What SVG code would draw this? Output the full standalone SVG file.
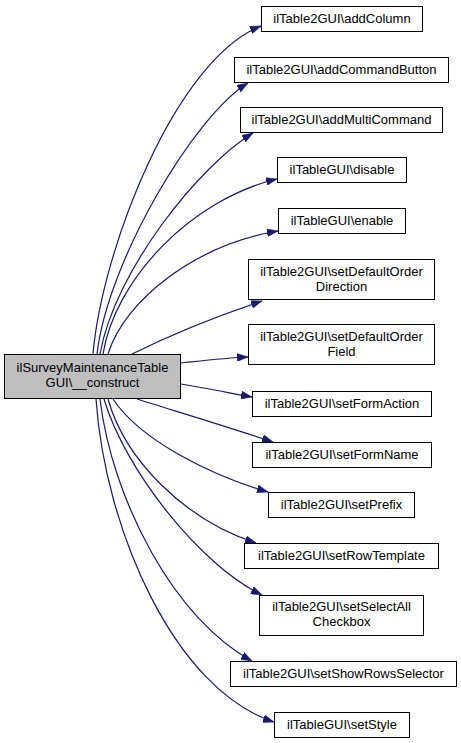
<svg xmlns="http://www.w3.org/2000/svg" width="461" height="743" viewBox="0 0 461 743">
<style>
.node rect{fill:#ffffff;stroke:#000000;stroke-width:1}
#src rect{fill:#bfbfbf}
text{font-family:"Liberation Sans",Arial,Helvetica,sans-serif;font-size:13px;fill:#000000;text-anchor:middle}
.edge{fill:none;stroke:#191970;stroke-width:1.2;marker-end:url(#arrow)}
</style>
<defs>
<marker id="arrow" markerUnits="userSpaceOnUse" viewBox="0 0 11 8" markerWidth="11" markerHeight="8" refX="11" refY="4" orient="auto">
<path d="M0,0 L11,4 L0,8 z" fill="#191970" stroke="#191970" stroke-width="0.5"/>
</marker>
</defs>
<rect x="0" y="0" width="461" height="743" fill="#ffffff"/>
<g id="edges">
<path class="edge" d="M93,354 C102,250 175,60 261,26"/>
<path class="edge" d="M97,354 C108,260 195,115 248,83"/>
<path class="edge" d="M100,354 C115,270 200,165 253,133"/>
<path class="edge" d="M103,354 C115,280 190,200 277,179"/>
<path class="edge" d="M108,354 C125,300 195,245 278,231"/>
<path class="edge" d="M132,354 C170,335 220,315 262,301"/>
<path class="edge" d="M181,363 C200,361 225,358 248,357"/>
<path class="edge" d="M181,384 C205,388 230,393 252,397"/>
<path class="edge" d="M137,399 C175,411 225,426 273,442"/>
<path class="edge" d="M113,399 C140,440 210,475 268,492"/>
<path class="edge" d="M108,399 C125,460 185,520 256,543"/>
<path class="edge" d="M104,399 C125,470 200,565 262,595"/>
<path class="edge" d="M100,399 C112,500 175,620 252,661"/>
<path class="edge" d="M96,399 C105,530 175,690 274,722"/>
</g>
<g id="src" class="node">
<rect x="4.5" y="354.5" width="176" height="44"/>
<text x="92.5" y="372">ilSurveyMaintenanceTable</text>
<text x="92.5" y="386.5">GUI\__construct</text>
</g>
<g id="n1" class="node"><rect x="261.5" y="6.5" width="161" height="25"/><text x="342" y="23">ilTable2GUI\addColumn</text></g>
<g id="n2" class="node"><rect x="234.5" y="57.5" width="214" height="25"/><text x="341.5" y="74">ilTable2GUI\addCommandButton</text></g>
<g id="n3" class="node"><rect x="240.5" y="107.5" width="202" height="25"/><text x="341.5" y="124">ilTable2GUI\addMultiCommand</text></g>
<g id="n4" class="node"><rect x="277.5" y="157.5" width="129" height="25"/><text x="342" y="174">ilTableGUI\disable</text></g>
<g id="n5" class="node"><rect x="278.5" y="208.5" width="127" height="25"/><text x="342" y="225">ilTableGUI\enable</text></g>
<g id="n6" class="node"><rect x="248.5" y="259.5" width="186" height="40"/><text x="341.5" y="276">ilTable2GUI\setDefaultOrder</text><text x="341.5" y="290.5">Direction</text></g>
<g id="n7" class="node"><rect x="248.5" y="324.5" width="186" height="40"/><text x="341.5" y="341">ilTable2GUI\setDefaultOrder</text><text x="341.5" y="355.5">Field</text></g>
<g id="n8" class="node"><rect x="252.5" y="391.5" width="179" height="25"/><text x="342" y="408">ilTable2GUI\setFormAction</text></g>
<g id="n9" class="node"><rect x="252.5" y="442.5" width="179" height="25"/><text x="342" y="459">ilTable2GUI\setFormName</text></g>
<g id="n10" class="node"><rect x="268.5" y="492.5" width="146" height="25"/><text x="341.5" y="509">ilTable2GUI\setPrefix</text></g>
<g id="n11" class="node"><rect x="244.5" y="543.5" width="194" height="25"/><text x="341.5" y="560">ilTable2GUI\setRowTemplate</text></g>
<g id="n12" class="node"><rect x="259.5" y="595.5" width="164" height="40"/><text x="341.5" y="611">ilTable2GUI\setSelectAll</text><text x="341.5" y="625.5">Checkbox</text></g>
<g id="n13" class="node"><rect x="230.5" y="661.5" width="226" height="25"/><text x="343.5" y="678">ilTable2GUI\setShowRowsSelector</text></g>
<g id="n14" class="node"><rect x="274.5" y="712.5" width="135" height="25"/><text x="342" y="729">ilTableGUI\setStyle</text></g>
</svg>
